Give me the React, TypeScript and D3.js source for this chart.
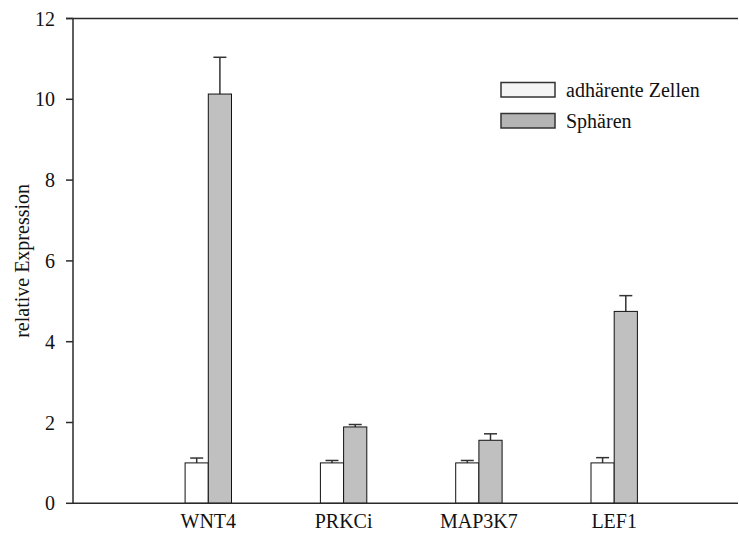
import React, { useEffect, useRef } from "react";
import * as d3 from "d3";

const genes = ["WNT4", "PRKCi", "MAP3K7", "LEF1"];
const adherent = [1.0, 1.0, 1.0, 1.0];
const adherentErr = [0.12, 0.06, 0.06, 0.13];
const spheres = [10.13, 1.89, 1.56, 4.75];
const spheresErr = [0.91, 0.06, 0.16, 0.39];
const yTicks = [0, 2, 4, 6, 8, 10, 12];
const seriesNames = ["adhärente Zellen", "Sphären"];

const W = 739;
const H = 535;
const FONT = "Liberation Serif";
const FS = 20;

const App = () => {
  const ref = useRef<SVGSVGElement>(null);

  useEffect(() => {
    const svg = d3.select(ref.current);
    svg.selectAll("*").remove();

    const x = d3.scaleLinear().domain([0, 5]).range([73, 749.5]);
    const y = d3.scaleLinear().domain([0, 12]).range([503.3, 18.5]);
    const barW = 23.2;
    const capW = 13;

    const series = [
      { vals: adherent, errs: adherentErr, fill: "#ffffff", off: -1 },
      { vals: spheres, errs: spheresErr, fill: "#c0c0c0", off: 0 },
    ];

    // error bars (upward only), behind bars
    series.forEach((s) => {
      const g = svg.append("g").attr("stroke", "#333").attr("stroke-width", 1.5);
      genes.forEach((_, i) => {
        const cx = x(i + 1) + s.off * barW + barW / 2;
        const top = y(s.vals[i] + s.errs[i]);
        g.append("line")
          .attr("x1", cx).attr("x2", cx)
          .attr("y1", y(s.vals[i])).attr("y2", top);
        g.append("line")
          .attr("x1", cx - capW / 2).attr("x2", cx + capW / 2)
          .attr("y1", top).attr("y2", top);
      });
    });

    // bars
    series.forEach((s) => {
      svg
        .append("g")
        .selectAll("rect")
        .data(s.vals)
        .join("rect")
        .attr("x", (_, i) => x(i + 1) + s.off * barW)
        .attr("y", (d) => y(d))
        .attr("width", barW)
        .attr("height", (d) => y(0) - y(d))
        .attr("fill", s.fill)
        .attr("stroke", "#111")
        .attr("stroke-width", 1);
    });

    // axes
    const axisColor = "#2a2a2a";
    svg.append("line")
      .attr("x1", x(0)).attr("x2", W - 1)
      .attr("y1", y(0)).attr("y2", y(0))
      .attr("stroke", axisColor).attr("stroke-width", 1.5);
    svg.append("line")
      .attr("x1", x(0) - 7).attr("x2", W - 1)
      .attr("y1", y(12)).attr("y2", y(12))
      .attr("stroke", axisColor).attr("stroke-width", 1.5);
    svg.append("line")
      .attr("x1", x(0)).attr("x2", x(0))
      .attr("y1", y(12)).attr("y2", y(0))
      .attr("stroke", axisColor).attr("stroke-width", 1.5);

    const yt = svg.append("g");
    yTicks.forEach((t) => {
      yt.append("line")
        .attr("x1", x(0) - 7).attr("x2", x(0))
        .attr("y1", y(t)).attr("y2", y(t))
        .attr("stroke", axisColor).attr("stroke-width", 1.5);
      yt.append("text")
        .attr("x", x(0) - 18)
        .attr("y", y(t))
        .attr("dy", "0.35em")
        .attr("text-anchor", "end")
        .style("font-family", FONT)
        .attr("font-size", FS)
        .attr("fill", "#111")
        .text(t);
    });

    genes.forEach((gname, i) => {
      svg.append("text")
        .attr("x", x(i + 1))
        .attr("y", 528)
        .attr("text-anchor", "middle")
        .style("font-family", FONT)
        .attr("font-size", FS)
        .attr("fill", "#111")
        .text(gname);
    });

    svg.append("text")
      .attr("transform", `translate(29, ${(y(0) + y(12)) / 2}) rotate(-90)`)
      .attr("text-anchor", "middle")
      .style("font-family", FONT)
      .attr("font-size", FS)
      .attr("fill", "#111")
      .text("relative Expression");

    // legend
    const legendFills = ["#f4f4f4", "#b4b4b4"];
    seriesNames.forEach((name, i) => {
      const ly = 82.5 + i * 31;
      svg.append("rect")
        .attr("x", 501).attr("y", ly)
        .attr("width", 54).attr("height", 14.5)
        .attr("fill", legendFills[i])
        .attr("stroke", "#333").attr("stroke-width", 1.5);
      svg.append("text")
        .attr("x", 566).attr("y", ly + 7)
        .attr("dy", "0.35em")
        .style("font-family", FONT)
        .attr("font-size", FS)
        .attr("fill", "#111")
        .text(name);
    });
  }, []);

  return (
    <svg
      ref={ref}
      width={W}
      height={H}
      style={{ position: "absolute", left: 0, top: 0, background: "#fff" }}
    />
  );
};

export default App;
